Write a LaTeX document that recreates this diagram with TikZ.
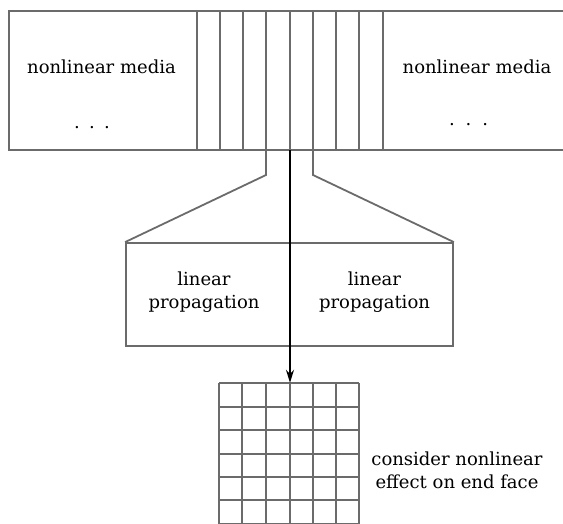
\documentclass[tikz,border=0pt]{standalone}
\usepackage{fontspec}
\setmainfont{DejaVu Serif}
\usetikzlibrary{arrows.meta}
\begin{document}
\begin{tikzpicture}[x=1pt,y=-1pt,
  frame/.style={draw=black!58, line width=1.8pt},
  lbl/.style={font=\fontsize{18}{22.5}\selectfont, align=center, text=black, inner sep=0pt},
  flow/.style={draw=black, line width=1.6pt, -{Stealth[length=13pt,width=8pt,inset=4pt]}}]
\useasboundingbox (0,0) rectangle (563,523);
\clip (0,0) rectangle (563,523);

% slab of nonlinear media, cut into thin slices in the middle
\draw[frame] (575,11) -- (9,11) -- (9,150) -- (575,150);
\foreach \x in {197,220,243,266,290,313,336,359,383}
  \draw[frame] (\x,11) -- (\x,150);
\node[lbl] (nlL) at (101.5,67) {nonlinear media};
\node[lbl] (dotL) at (92,128) {.\hspace{9.3pt}.\hspace{9.3pt}.};
\node[lbl] (nlR) at (477,67) {nonlinear media};
\node[lbl] (dotR) at (468.6,125) {.\hspace{11pt}.\hspace{11pt}.};

\coordinate (sL) at (266,150);
\coordinate (sM) at (290,150);
\coordinate (sR) at (313,150);

% linear propagation block
\node[frame, minimum width=327pt, minimum height=103pt, inner sep=0pt] (lin) at (289.5,294.5) {};
\draw[frame] (sL) -- (266,175) -- (lin.north west);
\draw[frame] (sR) -- (313,175) -- (lin.north east);
\node[lbl] (linL) at (204,292) {linear\\propagation};
\node[lbl] (linR) at (374.5,292) {linear\\propagation};

% end-face grid, 6 x 6 cells
\node[inner sep=0pt, minimum width=140pt, minimum height=141pt] (face) at (289,453.5) {};
\foreach \x in {219,242,266,290,313,336,359}
  \draw[frame] (\x,383) -- (\x,524);
\foreach \y in {383,407,430,454,477,500,524}
  \draw[frame] (219,\y) -- (359,\y);
\node[lbl] (note) at (457,470.3) {consider nonlinear\\effect on end face};

\draw[flow] (sM) -- (sM |- face.north);
\end{tikzpicture}
\end{document}
